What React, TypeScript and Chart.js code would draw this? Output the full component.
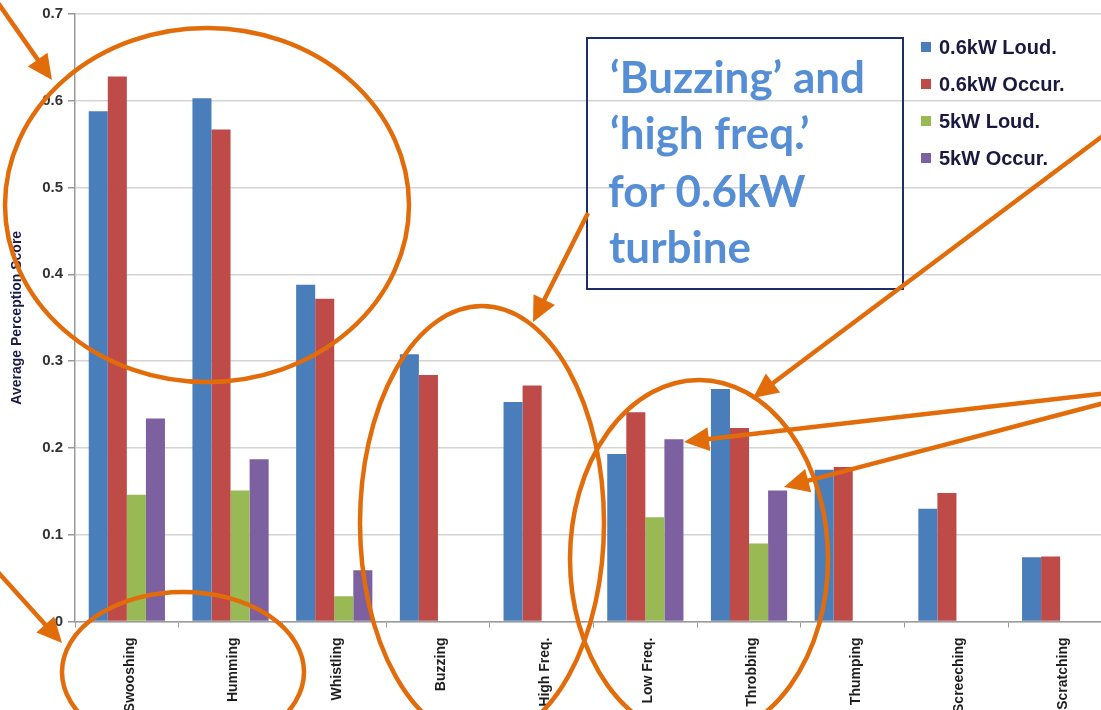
import React, { useEffect, useRef } from "react";
import { Chart, registerables } from "chart.js";

Chart.register(...registerables);

const categories = [
  "Swooshing",
  "Humming",
  "Whistling",
  "Buzzing",
  "High Freq.",
  "Low Freq.",
  "Throbbing",
  "Thumping",
  "Screeching",
  "Scratching",
];
const seriesNames = ["0.6kW Loud.", "0.6kW Occur.", "5kW Loud.", "5kW Occur."];
const loud06 = [0.588, 0.603, 0.388, 0.308, 0.253, 0.193, 0.268, 0.175, 0.130, 0.074];
const occur06 = [0.628, 0.567, 0.372, 0.284, 0.272, 0.241, 0.223, 0.178, 0.148, 0.075];
const loud5 = [0.146, 0.151, 0.029, null, null, 0.120, 0.090, null, null, null];
const occur5 = [0.234, 0.187, 0.059, null, null, 0.210, 0.151, null, null, null];
const yTickValues = [0, 0.1, 0.2, 0.3, 0.4, 0.5, 0.6, 0.7];
const yTickLabels = ["0", "0.1", "0.2", "0.3", "0.4", "0.5", "0.6", "0.7"];
const yTitle = "Average Perception Score";
const noteLines = ["\u2018Buzzing\u2019 and", "\u2018high freq.\u2019", "for 0.6kW", "turbine"];

const COLORS = ["#4a7ebb", "#be4b48", "#98b954", "#7d60a0"];
const ORANGE = "#e36c0a";
const FONT = "'Liberation Sans', Arial, sans-serif";

function drawArrow(
  ctx: CanvasRenderingContext2D,
  x1: number,
  y1: number,
  x2: number,
  y2: number
) {
  const L = 25;
  const W = 12;
  const dx = x2 - x1;
  const dy = y2 - y1;
  const len = Math.hypot(dx, dy);
  const ux = dx / len;
  const uy = dy / len;
  const bx = x2 - ux * L;
  const by = y2 - uy * L;
  ctx.beginPath();
  ctx.moveTo(x1, y1);
  ctx.lineTo(bx + ux * 2, by + uy * 2);
  ctx.stroke();
  ctx.beginPath();
  ctx.moveTo(x2, y2);
  ctx.lineTo(bx - uy * W, by + ux * W);
  ctx.lineTo(bx + uy * W, by - ux * W);
  ctx.closePath();
  ctx.fill();
}

const overlay = {
  id: "overlay",
  afterDraw(chart: any) {
    const ctx: CanvasRenderingContext2D = chart.ctx;
    ctx.save();

    // Legend
    const rows = [47, 84, 121, 158];
    chart.data.datasets.forEach((ds: any, i: number) => {
      const y = rows[i];
      ctx.fillStyle = ds.backgroundColor;
      ctx.fillRect(921, y - 5, 10, 10);
      ctx.fillStyle = "#1a1a40";
      ctx.font = `bold 20px ${FONT}`;
      ctx.textBaseline = "middle";
      ctx.textAlign = "left";
      ctx.fillText(ds.label, 939, y + 1);
    });

    // Note box
    ctx.strokeStyle = "#1c2f6b";
    ctx.lineWidth = 2;
    ctx.strokeRect(587, 38, 316, 251);
    ctx.fillStyle = "#558ed5";
    ctx.font = "bold 44px Lato, 'Open Sans', sans-serif";
    ctx.textBaseline = "alphabetic";
    const w0 = ctx.measureText(noteLines[0]).width;
    const sx = 255 / w0;
    const baselines = [93, 149, 207, 263];
    const xs = [610, 610, 608, 609];
    noteLines.forEach((t, i) => {
      ctx.save();
      ctx.translate(xs[i], baselines[i]);
      ctx.scale(sx, 1);
      ctx.fillText(t, 0, 0);
      ctx.restore();
    });

    // Ellipses
    ctx.strokeStyle = ORANGE;
    ctx.fillStyle = ORANGE;
    ctx.lineWidth = 4.5;
    const ellipses = [
      [207, 205, 202, 177],
      [183, 672, 121, 80],
      [482, 523, 122, 217],
      [699, 559, 129, 179],
    ];
    ellipses.forEach(([cx, cy, rx, ry]) => {
      ctx.beginPath();
      ctx.ellipse(cx, cy, rx, ry, 0, 0, Math.PI * 2);
      ctx.stroke();
    });

    // Arrows
    const arrows = [
      [-4, 0, 52, 80],
      [-4, 570, 62, 643],
      [588, 213, 533, 322],
      [1108, 132, 753, 398],
      [1108, 393, 684, 442],
      [1108, 402, 784, 487],
    ];
    arrows.forEach(([a, b, c, d]) => drawArrow(ctx, a, b, c, d));

    ctx.restore();
  },
};

export default function App() {
  const ref = useRef<HTMLCanvasElement>(null);
  useEffect(() => {
    const canvas = ref.current!;
    const data = [loud06, occur06, loud5, occur5];
    const chart = new Chart(canvas, {
      type: "bar",
      data: {
        labels: categories,
        datasets: data.map((d, i) => ({
          label: seriesNames[i],
          data: d as any,
          backgroundColor: COLORS[i],
          borderWidth: 0,
        })),
      },
      options: {
        responsive: false,
        animation: false,
        layout: { padding: { top: 14, left: 0, right: 0, bottom: 0 } },
        datasets: { bar: { categoryPercentage: 0.735, barPercentage: 1 } },
        plugins: { legend: { display: false }, tooltip: { enabled: false } },
        scales: {
          x: {
            grid: {
              display: true,
              drawOnChartArea: false,
              drawTicks: true,
              tickLength: 6,
              tickColor: "#9a9a9a",
              offset: true,
            },
            border: { display: true, color: "#9a9a9a", width: 1.5 },
            ticks: {
              autoSkip: false,
              minRotation: 90,
              maxRotation: 90,
              padding: 10,
              labelOffset: 3,
              color: "#1e1e1e",
              font: { family: FONT, size: 14, weight: "bold" },
            },
            afterFit: (s: any) => {
              s.height = 88.5;
            },
          },
          y: {
            min: 0,
            max: 0.7,
            afterBuildTicks: (s: any) => {
              s.ticks = yTickValues.map((v) => ({ value: v }));
            },
            grid: {
              color: "#d4d4d4",
              lineWidth: 1.5,
              tickLength: 7,
              tickColor: "#9a9a9a",
            },
            border: { display: true, color: "#9a9a9a", width: 1.5 },
            ticks: {
              padding: 5,
              color: "#333333",
              font: { family: FONT, size: 15, weight: "bold" },
              callback: (v: any) => {
                const idx = yTickValues.findIndex((t) => Math.abs(t - Number(v)) < 1e-6);
                return idx >= 0 ? yTickLabels[idx] : "";
              },
            },
            title: {
              display: true,
              text: yTitle,
              color: "#1b1b45",
              font: { family: FONT, size: 14, weight: "bold" },
              padding: { top: 9, bottom: 0 },
            },
            afterFit: (s: any) => {
              s.width = 75;
            },
          },
        },
      },
      plugins: [overlay],
    });
    return () => chart.destroy();
  }, []);

  return (
    <div
      style={{
        position: "fixed",
        left: 0,
        top: 0,
        width: 1101,
        height: 710,
        overflow: "hidden",
        background: "#ffffff",
      }}
    >
      <canvas
        ref={ref}
        width={1112}
        height={710}
        style={{ display: "block", width: 1112, height: 710 }}
      />
    </div>
  );
}
